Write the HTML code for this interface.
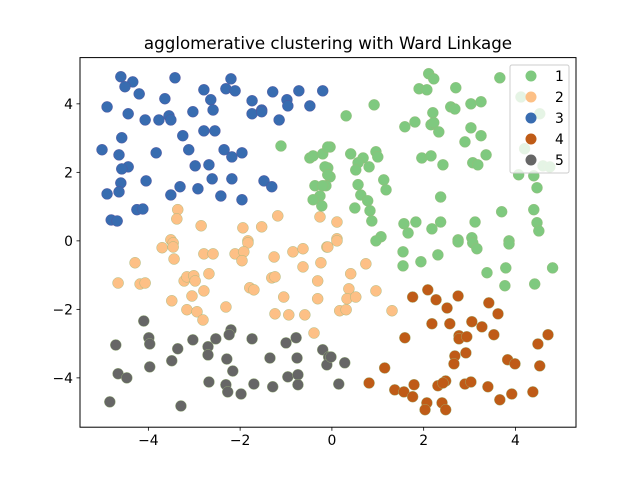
<!DOCTYPE html>
<html><head><meta charset="utf-8"><style>
body{margin:0;background:#fff;}
svg text{font-family:"DejaVu Sans","Liberation Sans",sans-serif;}
</style></head><body>
<svg id="chart" width="640" height="480" viewBox="0 0 640 480" xmlns="http://www.w3.org/2000/svg">
<rect width="640" height="480" fill="#fff"/>
<text x="328" y="49" font-size="16.7" text-anchor="middle">agglomerative clustering with Ward Linkage</text>
<g id="marks"></g>
<g id="axes"></g>
<g id="legend"></g>
</svg>
<script>
const clusterLabels = ["1","2","3","4","5"];
const clusterColors = ["#7fc97f","#fdc086","#386cb0","#bf5b17","#666666"];
const xTicks = [-4,-2,0,2,4];
const yTicks = [-4,-2,0,2,4];
const c1x=[2.11,2.22,1.90,2.07,2.70,3.66,0.92,0.31,2.59,2.68,3.03,3.25,2.20,1.59,1.81,2.16,2.22,2.33,3.03,3.25,2.90,-0.04,0.41,0.68,0.57,0.52,0.81,0.96,1.00,1.96,2.16,2.42,3.07,3.18,3.36,-0.09,-0.04,-0.13,0.57,1.13,1.18,0.63,0.78,0.50,0.83,0.87,2.37,3.70,1.57,1.83,2.37,2.18,1.66,3.12,1.07,2.75,3.05,4.07,4.40,4.47,4.40,4.47,4.51,3.86,4.12,4.53,4.20,4.60,4.75,-1.11,-0.48,-0.41,-0.20,-0.09,-0.15,-0.09,-0.37,-0.20,-0.26,-0.41,-0.22,1.55,1.55,1.94,2.31,2.75,3.07,3.16,3.86,3.38,3.79,3.77,4.42,4.81,0.96];
const c1y=[4.88,4.73,4.44,4.41,4.47,4.76,3.97,3.65,3.91,3.85,4.00,4.06,3.74,3.33,3.47,3.39,3.45,3.18,3.30,3.07,2.89,2.74,2.54,2.42,2.28,2.07,2.16,2.60,2.45,2.42,2.48,2.22,2.28,2.22,2.51,2.13,1.87,1.61,1.64,1.78,1.49,1.34,1.17,0.96,0.88,0.58,1.28,0.85,0.50,0.55,0.55,0.35,0.23,0.55,0.12,0.03,0.09,1.93,1.90,1.55,0.91,0.53,0.29,0.00,4.20,3.71,2.69,2.19,2.16,2.77,2.42,2.48,2.54,2.74,2.16,1.93,1.61,1.61,1.31,1.20,1.02,-0.32,-0.73,-0.61,-0.41,-0.03,-0.06,-0.23,-0.09,-0.93,-0.79,-1.31,-1.26,-0.79,0.00];
const c2x=[-3.36,-3.38,-2.85,-1.94,-1.53,-1.18,-0.26,-3.51,-1.83,0.11,0.11,-3.70,-3.46,-3.46,-1.83,-4.29,-3.44,-2.79,-2.59,-2.11,-1.92,-1.96,-1.26,-0.85,-0.63,-0.11,-0.63,-0.24,-4.66,-4.18,-4.07,-3.22,-3.16,-3.01,-2.98,-2.68,-1.31,-1.24,-0.31,-1.79,-1.70,-2.79,-3.05,-1.05,-0.31,-3.49,-3.16,-2.94,-2.81,-2.31,-1.24,-0.94,-0.59,-0.39,-0.09,0.11,0.74,0.41,0.37,0.33,0.52,0.96,0.17,0.31,1.31];
const c2y=[0.91,0.64,0.44,0.38,0.41,0.73,0.70,0.03,0.00,0.55,0.06,-0.20,-0.06,-0.18,-0.06,-0.64,-0.53,-0.38,-0.38,-0.38,-0.32,-0.58,-0.47,-0.32,-0.23,-0.18,-0.76,-0.64,-1.23,-1.26,-1.23,-1.17,-1.05,-1.02,-1.17,-0.96,-1.08,-1.05,-1.17,-1.37,-1.43,-1.46,-1.61,-1.64,-1.69,-1.75,-2.01,-2.07,-2.31,-1.93,-2.13,-2.16,-2.16,-2.69,-0.18,0.00,-0.67,-0.96,-1.40,-1.69,-1.64,-1.46,-2.04,-2.01,-2.04];
const c3x=[-4.60,-4.34,-4.51,-4.20,-3.42,-3.64,-4.90,-4.44,-4.07,-3.77,-3.55,-3.51,-3.03,-2.79,-2.64,-2.59,-2.31,-2.20,-2.11,-1.74,-1.74,-1.53,-1.53,-1.29,-0.98,-0.96,-1.15,-0.72,-0.48,-0.20,-2.79,-2.55,-3.25,-4.58,-5.01,-4.64,-3.83,-3.12,-2.35,-2.18,-1.96,-4.44,-4.58,-2.98,-2.68,-4.60,-4.05,-2.61,-2.18,-1.48,-1.31,-3.31,-4.90,-4.64,-3.51,-2.92,-2.42,-1.96,-4.25,-4.12,-4.81,-4.68];
const c3y=[4.79,4.64,4.50,4.29,4.76,4.15,3.91,3.71,3.53,3.53,3.65,3.53,3.77,4.41,4.12,3.82,4.44,4.73,4.38,4.09,3.71,3.82,3.77,4.35,4.12,3.94,3.53,4.38,3.94,4.38,3.21,3.21,3.07,3.01,2.66,2.51,2.57,2.66,2.66,2.45,2.57,2.16,2.10,2.19,2.22,1.69,1.75,1.81,1.81,1.75,1.58,1.58,1.37,1.43,1.34,1.52,1.31,1.20,0.91,0.93,0.61,0.58];
const c4x=[1.76,2.09,2.27,2.51,2.75,3.42,3.62,2.18,2.57,3.05,3.27,1.59,2.77,2.77,2.94,3.53,4.71,4.49,2.92,2.68,2.66,3.83,3.99,4.53,1.15,0.81,1.37,1.57,1.79,1.76,2.31,2.48,2.42,2.90,3.03,3.40,3.92,3.66,4.38,2.07,2.03,2.40,2.48];
const c4y=[-1.64,-1.43,-1.72,-1.96,-1.61,-1.81,-2.13,-2.42,-2.42,-2.36,-2.51,-2.83,-2.77,-2.86,-2.80,-2.74,-2.74,-3.01,-3.27,-3.36,-3.59,-3.47,-3.59,-3.65,-3.71,-4.15,-4.35,-4.41,-4.20,-4.55,-4.23,-4.09,-4.15,-4.18,-4.12,-4.26,-4.47,-4.64,-4.41,-4.73,-4.93,-4.73,-4.93];
const c5x=[-4.10,-4.71,-3.99,-3.97,-3.03,-2.53,-2.20,-2.24,-1.74,-3.36,-2.70,-2.70,-3.49,-2.29,-2.16,-1.35,-1.00,-0.78,-0.76,-0.20,-0.07,-0.11,-4.66,-4.47,-3.97,-2.68,-2.31,-2.27,-1.98,-1.70,-1.29,-0.96,-0.74,-0.74,-4.84,-3.29,-0.02,0.28,0.15];
const c5y=[-2.34,-3.04,-2.83,-3.01,-2.89,-2.86,-2.60,-2.74,-2.86,-3.15,-3.09,-3.33,-3.50,-3.45,-3.80,-3.42,-2.98,-2.83,-3.42,-3.18,-3.39,-3.62,-3.88,-4.00,-3.68,-4.12,-4.20,-4.41,-4.47,-4.18,-4.26,-3.97,-3.91,-4.20,-4.70,-4.82,-3.39,-3.56,-4.18];

const NS="http://www.w3.org/2000/svg";
const L=80,R=576,T=57.6,B=427.2;
const xmin=-5.49,xmax=5.32,ymin=-5.44,ymax=5.35;
function sx(v){return L+(v-xmin)/(xmax-xmin)*(R-L);}
function sy(v){return B-(v-ymin)/(ymax-ymin)*(B-T);}
function mk(tag,attrs,parent){const e=document.createElementNS(NS,tag);for(const k in attrs)e.setAttribute(k,attrs[k]);parent.appendChild(e);return e;}

const marks=document.getElementById('marks');
const xs=[c1x,c2x,c3x,c4x,c5x], ys=[c1y,c2y,c3y,c4y,c5y];
for(let c=0;c<5;c++){
  for(let i=0;i<xs[c].length;i++){
    const p=mk('circle',{cx:sx(xs[c][i]),cy:sy(ys[c][i]),r:5.5,fill:clusterColors[c],stroke:c===2?'#5c4f9a':'#9ab87a','stroke-width':0.4},marks);
    
    
  }
}
const axes=document.getElementById('axes');
const frame=mk('rect',{x:L,y:T,width:R-L,height:B-T,fill:'none',stroke:'#000','stroke-width':1},axes);


xTicks.forEach(t=>{
  const x=sx(t);
  mk('line',{x1:x,x2:x,y1:B,y2:B+3.5,stroke:'#000','stroke-width':0.8},axes);
  const tx=mk('text',{x:x,y:B+18,'font-size':13.9,'text-anchor':'middle'},axes);
  tx.textContent=(t<0?'\u2212'+(-t):t);
  
  
});
yTicks.forEach(t=>{
  const y=sy(t);
  mk('line',{x1:L-3.5,x2:L,y1:y,y2:y,stroke:'#000','stroke-width':0.8},axes);
  const tx=mk('text',{x:L-7,y:y+5,'font-size':13.9,'text-anchor':'end'},axes);
  tx.textContent=(t<0?'\u2212'+(-t):t);
  
  
});
const lg=document.getElementById('legend');


mk('rect',{x:510,y:65,width:59,height:108,rx:2,fill:'#fff','fill-opacity':0.8,stroke:'#ccc','stroke-width':1},lg);
clusterLabels.forEach((lab,i)=>{
  const y=76+i*21;
  const m=mk('circle',{cx:531,cy:y,r:5.5,fill:clusterColors[i]},lg);
  
  
  const t=mk('text',{x:555,y:y+5,'font-size':13.9},lg);
  t.textContent=lab;
  
  
});
</script>
</body></html>
